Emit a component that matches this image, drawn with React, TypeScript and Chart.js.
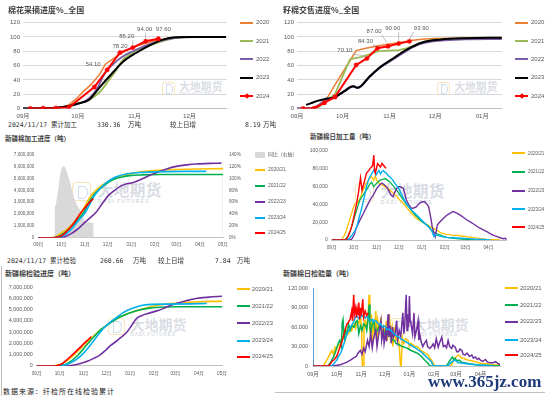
import React, { useEffect, useRef } from 'react';
import { Chart, registerables } from 'chart.js';

Chart.register(...registerables);

type Pt = [number, number];

// ---------- tick labels / legend labels ----------
const monthLabels = ['09月', '10月', '11月', '12月', '01月', '02月', '03月', '04月', '05月'];
const monthStarts = [0, 30, 61, 91, 122, 153, 181, 212, 242];
const yearLegend = ['2020', '2021', '2022', '2023', '2024'];
const seasonLegend = ['2020/21', '2021/22', '2022/23', '2023/24', '2024/25'];
const yoyLegend = '同比（右轴）';

// ---------- panel 1: 棉花采摘进度 (%) [day since 09-01, %] ----------
const pick2020: Pt[] = [[0,0],[10,0.3],[18,1],[22,2.5],[25,5],[29,13],[33,24],[37,33],[42,48],[45,62],[49,69],[53,76],[58,83],[63,88],[68,92],[74,96],[80,98.5],[88,99.6],[96,100],[111,100]];
const pick2021: Pt[] = [[0,0],[10,0.3],[18,1],[25,3],[30,7],[36,12],[42,23],[47,40],[51,54],[54,66],[58,75],[62,81],[69,88],[76,94],[83,98.5],[90,100],[111,100]];
const pick2022: Pt[] = [[0,0],[10,0.5],[18,1.2],[25,3],[32,8],[36,14],[40,26],[45,50],[51,66],[56,75],[60,80],[67,88],[74,94],[80,97.5],[86,99.5],[95,100],[111,100]];
const pick2023: Pt[] = [[0,0],[10,0.3],[18,1],[25,3.5],[30,7],[36,12],[42,30],[49,50],[55,66],[62,78],[69,88],[76,96],[83,99.5],[90,100],[111,100]];
const pick2024: Pt[] = [[4,0],[11,0.3],[18,0.6],[25,1.5],[39,30],[46,54.1],[53,78.2],[60,85.2],[67,94],[74,97.6]];

// ---------- panel 2: 籽棉交售进度 (%) ----------
const sale2020: Pt[] = [[0,0],[11,0],[14,2],[18,8],[25,33],[32,57],[39,81],[46,84.5],[52,87],[58,89],[68,92.4],[75,95],[82,97],[90,97.8],[105,98.3],[120,98.6],[135,99]];
const sale2021: Pt[] = [[0,0],[11,0],[14,2],[18,8],[25,20],[30,45],[35,69],[42,72],[48,76],[53,80],[60,81],[67,81.5],[72,84],[77,88],[83,93],[88,95.5],[95,96.5],[110,97.5],[135,98.8]];
const sale2022: Pt[] = [[0,0],[6,0],[11,1],[14,4],[18,10],[25,16],[31,24],[37,31],[40,29],[48,45],[55,58],[64,70],[72,81],[82,91],[95,95.5],[110,97],[135,97.5]];
const sale2023: Pt[] = [[6,5],[10,8],[14,11],[18,13],[25,16],[31,24],[37,31],[40,29],[48,45],[55,58],[64,71],[72,82],[82,92],[95,96.5],[110,98.3],[135,99]];
const sale2024: Pt[] = [[4,0],[11,0],[18,8],[25,16],[39,61],[46,70.1],[53,84.3],[60,87],[67,90.9],[74,93.9]];

// ---------- panel 3: 新疆棉加工进度 (吨) ----------
const procYoy: Pt[] = [[21,0],[21.5,52],[23,56],[26,80],[29,110],[31,118],[33,121],[35,119],[37,113],[40,100],[42,92],[46,71],[50,57],[54,48],[57,43],[61,27],[64,26],[68,26],[72,25],[72.5,0],[241,0],[241.5,105],[242,105]];
const proc2020: Pt[] = [[0,0],[17,0],[22,50000],[28,300000],[35,600000],[42,950000],[50,1550000],[57,2170000],[63,2900000],[68,3450000],[74,3900000],[81,4300000],[90,4680000],[98,4970000],[110,5250000],[125,5450000],[137,5580000],[155,5680000],[172,5740000],[207,5800000],[242,5830000]];
const proc2021: Pt[] = [[0,0],[20,0],[28,150000],[35,450000],[42,850000],[50,1400000],[60,2170000],[66,2950000],[72,3550000],[78,3980000],[86,4400000],[93,4720000],[100,4950000],[110,5130000],[120,5240000],[135,5300000],[160,5330000],[242,5330000]];
const proc2022: Pt[] = [[0,0],[25,0],[33,50000],[42,300000],[50,650000],[55,920000],[62,1350000],[70,1800000],[76,2170000],[84,2900000],[92,3570000],[100,4000000],[108,4350000],[116,4550000],[122,4620000],[128,4750000],[137,5000000],[147,5300000],[156,5520000],[168,5800000],[181,6020000],[195,6150000],[207,6220000],[225,6270000],[240,6290000]];
const proc2023: Pt[] = [[0,0],[22,0],[30,100000],[37,350000],[44,750000],[52,1400000],[62,2170000],[68,2900000],[73,3500000],[80,4080000],[88,4580000],[96,4950000],[105,5200000],[115,5380000],[133,5500000],[160,5580000],[190,5600000],[220,5600000]];
const proc2024: Pt[] = [[0,0],[19,0],[25,50000],[30,150000],[36,450000],[41,800000],[48,1350000],[54,1950000],[60,2450000],[66,2900000],[72,3300000]];

// ---------- panel 4: 新疆棉日加工量 (吨) ----------
const dproc2020: Pt[] = [[0,0],[13,0],[17,5000],[20,11000],[24,22000],[27,30000],[30,38000],[32,41000],[35,42000],[38,46000],[42,55000],[47,64000],[51,69000],[54,71000],[57,67000],[59,72000],[61,67000],[64,64000],[68,62000],[72,60000],[76,58000],[79,56000],[84,52000],[88,49000],[92,45000],[97,41000],[101,37000],[106,32000],[110,28000],[115,24000],[120,22000],[124,20000],[129,17000],[133,15000],[138,13000],[142,11000],[148,8000],[155,6400],[160,6000],[165,5000],[170,5500],[174,4500],[180,4000],[186,3500],[192,2600],[200,1800],[210,700],[220,300],[228,0]];
const dproc2021: Pt[] = [[0,0],[17,0],[20,2000],[23,5000],[27,15000],[31,26000],[35,37000],[38,45000],[42,50000],[47,56000],[51,62000],[54,65000],[57,60000],[60,63000],[65,67000],[69,68000],[72,69000],[76,67000],[79,65000],[84,60000],[88,56000],[92,51000],[97,45000],[101,40000],[106,35600],[110,31000],[113,28000],[117,25000],[120,22000],[125,19000],[129,17000],[133,13000],[138,9000],[142,7000],[147,5600],[151,4000],[156,3000],[162,2000],[169,1500],[176,1000],[183,700],[190,300],[195,0]];
const dproc2022: Pt[] = [[0,0],[24,0],[27,1000],[30,5000],[34,15000],[38,22000],[43,30000],[47,37000],[52,45000],[56,50000],[61,58000],[65,62000],[68,64000],[71,62000],[74,60000],[77,56000],[79,52000],[81,50000],[83,48700],[85,53000],[88,58000],[90,60000],[92,60000],[95,59000],[97,58000],[99,52000],[101,45000],[104,40000],[108,35600],[111,36000],[115,37500],[117,40000],[120,42000],[123,43000],[126,43000],[129,40000],[131,37500],[133,30000],[134.5,22500],[136,15000],[138,9000],[140,3700],[141.5,10000],[143,17000],[146,20000],[149,22500],[152,25000],[156,28000],[160,30000],[164,32000],[167,31000],[170,30000],[174,28000],[178,25500],[183,22500],[188,20000],[192,18000],[196,15700],[200,13500],[205,11500],[210,9400],[215,7000],[220,5000],[224,3700],[228,2500],[232,1500],[235,2000],[237,0]];
const dproc2023: Pt[] = [[0,0],[21,0],[24,2000],[28,6000],[31,10000],[34,15000],[37,25000],[41,37000],[44,48000],[47,60000],[50,68000],[53,73000],[56,77000],[58,80000],[60,73000],[62,76000],[64,78000],[66,74000],[68,77000],[70,78000],[72,76000],[74,75000],[77,72000],[80,70000],[83,67000],[86,63000],[90,59000],[93,54000],[97,47000],[101,41000],[106,35600],[110,32000],[115,28000],[120,24000],[124,20600],[128,17000],[133,13000],[136,9000],[138,4000],[140,6000],[144,5000],[148,4000],[155,3000],[165,2500],[175,2000],[185,1500],[195,1000],[205,500],[215,0]];
const dproc2024: Pt[] = [[0,0],[19,0],[21,2000],[24,8000],[27,15000],[30,26000],[33,38000],[36,52000],[39,70000],[41,56000],[43.7,64000],[47,75000],[50,78000],[52,80500],[54,82000],[55.5,84000],[57,95500],[58,78000],[59,75000],[61,82000],[62,86000],[64,84000],[66,82000],[68,86000],[70,84000],[72,82000],[73.5,80500]];

// ---------- panel 5: 新疆棉检验进度 (吨) ----------
const insp2020: Pt[] = [[0,0],[20,0],[24,30000],[29,100000],[35,280000],[41,550000],[48,950000],[55,1400000],[62,1900000],[71,2450000],[78,2900000],[84,3250000],[90,3550000],[97,3900000],[104,4200000],[110,4420000],[117,4620000],[125,4800000],[134,4980000],[145,5200000],[160,5420000],[175,5550000],[199,5670000],[242,5770000]];
const insp2021: Pt[] = [[0,0],[24,0],[30,30000],[36,100000],[42,300000],[48,600000],[55,1050000],[62,1600000],[70,2250000],[78,2850000],[84,3250000],[90,3550000],[97,3880000],[104,4180000],[110,4400000],[117,4600000],[125,4800000],[134,4980000],[145,5120000],[160,5220000],[186,5260000],[242,5260000]];
const insp2022: Pt[] = [[0,0],[30,0],[45,50000],[56,200000],[66,420000],[75,700000],[82,950000],[90,1400000],[97,1850000],[104,2200000],[111,2600000],[117,2950000],[124,3600000],[130,4200000],[136,4450000],[147,4700000],[157,4900000],[165,5100000],[175,5400000],[182,5550000],[195,5800000],[208,6000000],[225,6120000],[242,6200000]];
const insp2023: Pt[] = [[0,0],[26,0],[32,40000],[38,120000],[45,300000],[52,580000],[60,1050000],[67,1600000],[74,2200000],[80,2750000],[86,3250000],[92,3650000],[99,4050000],[106,4400000],[112,4700000],[120,5000000],[130,5250000],[140,5420000],[150,5480000],[173,5500000],[200,5520000],[222,5550000]];
const insp2024: Pt[] = [[0,0],[20,0],[26,30000],[32,150000],[39,530000],[45,900000],[52,1350000],[58,1750000],[64,2150000],[68,2400000],[71,2610000]];

// ---------- panel 6: 新疆棉日检验量 (吨) ----------
const dinsp2020: Pt[] = [[0,0],[13,0],[15,4000],[17.5,9000],[20,15000],[22,20000],[24,24000],[26,18000],[28,29000],[30,26000],[32.5,34000],[35,30000],[37,42000],[39,47000],[41,40000],[43,55000],[45,50000],[47,60000],[49,55000],[52,65000],[54,58000],[56,70000],[58,66000],[60,75000],[61.5,60000],[62.4,0],[63.5,0],[64.5,55000],[66,70000],[68,60000],[70,85000],[71,110000],[72,60000],[73,40000],[74,80000],[75,30000],[76,65000],[78,50000],[79.5,85000],[81,40000],[82,70000],[84,55000],[86,75000],[87,45000],[89,60000],[91,50000],[93,70000],[94,40000],[96.6,80000],[98,45000],[100,60000],[101,30000],[103,55000],[105,40000],[107,45000],[109,35000],[110.7,0],[111.7,0],[113,45000],[115,35000],[117,42000],[120,40000],[122,30000],[124,35000],[127,32000],[130,30000],[133,29000],[136,25000],[139,22000],[142,20000],[145.7,17000],[148,12000],[150,9000],[152,5000],[154,0],[175,0],[177.8,9000],[181,14000],[184,17000],[186,15000],[188,12000],[190.6,12000],[194,10000],[197,9000],[201,8000],[205.6,6600],[210,5000],[214,4000],[218,3500],[222.6,3000],[228,2000],[235.5,1500],[237,1000]];
const dinsp2021: Pt[] = [[0,0],[19,0],[22,5000],[24,10000],[26,14000],[28,20000],[30,28000],[32,35000],[34,40000],[36,30000],[37,67000],[38,72000],[39.7,40000],[41,55000],[43,50000],[45,65000],[47,55000],[49,62000],[52,60000],[54,68000],[56,70000],[58,50000],[60,62000],[62,55000],[64,65000],[66.7,62000],[68,55000],[70,75000],[71,95000],[72,60000],[73,50000],[75,65000],[77,70000],[79,50000],[81.6,55000],[84,62000],[86,60000],[88,45000],[90,50000],[92,55000],[95,48000],[98.7,44600],[101,40000],[103,39500],[105,35000],[107,34000],[110,32000],[113,30000],[115.8,29000],[118,28000],[120,27000],[124,24000],[128,22000],[133,19000],[137,15000],[141.5,9000],[145,5000],[148,0],[169,0],[171,4000],[173.5,9000],[176.5,14000],[178,10000],[180,12000],[182,8000],[185,9000],[188,6000],[192,5000],[198,3500],[205,2500],[212,1500],[220,1000],[230,500],[237,300]];
const dinsp2022: Pt[] = [[0,0],[24,0],[30,1000],[35,2000],[39,4000],[43,6000],[47.4,9000],[51,12000],[55,15000],[57,20000],[60,24000],[62,18000],[64,28000],[66,22000],[69,39500],[71,30000],[73,50000],[75,28000],[77,45000],[79.5,55000],[81,30000],[83,48000],[86,70000],[87,40000],[89,55000],[90,35000],[92,52000],[93,38000],[95,80000],[96,45000],[98,62000],[99,35000],[100.8,60000],[102,45000],[104,50000],[106,70000],[107,40000],[109,55000],[111,45000],[113.7,82000],[115,50000],[116,60000],[118,110000],[119,55000],[120,80000],[121,60000],[122,108000],[123,70000],[124,65000],[126,50000],[127.8,82000],[129,45000],[131,55000],[133,70000],[134,40000],[135,50000],[137,37000],[139,30000],[141,35000],[143.6,39500],[145,30000],[148,27000],[150,30000],[152,34000],[154,28000],[156,42000],[158.5,29000],[160,35000],[163,44600],[165,30000],[167,32000],[169,28000],[171,39500],[173,30000],[175.6,27000],[177,32000],[180,29000],[182,22000],[184,22000],[186,26000],[188.5,24000],[190,18000],[192.7,17000],[195,20000],[198,15000],[201,17000],[203,12000],[205.6,14000],[208,10000],[210,12000],[212,9000],[215,7000],[218,10000],[221,6000],[224.8,5000],[228,5000],[231,6600],[234,4000],[236,3000],[237,2000]];
const dinsp2023: Pt[] = [[0,0],[24,0],[26,3000],[28,6000],[30,9000],[32,14000],[34.6,19000],[37,26000],[39,34000],[41,42000],[43,50000],[45,55000],[47.4,60000],[50,65000],[52,70000],[54,76000],[56,77000],[58,73000],[60,75000],[62,78000],[64.5,76000],[66,74000],[68,77000],[71,72000],[73,70000],[75,72000],[77,68000],[79.5,70000],[82,66000],[84,64000],[86,65000],[88,60000],[90,62000],[92,60000],[94,56000],[96,57000],[98.7,55000],[101,51000],[103,50000],[105,47000],[108,45000],[111.5,42000],[114,40000],[118,37000],[121,35000],[124,32000],[127,30000],[131,27000],[134,24000],[137,22000],[140,18000],[143.6,14000],[147,10000],[150,6600],[152,0],[171,0],[173,3000],[175.6,6600],[178,8000],[180,9000],[182,7000],[184,5000],[188,4500],[192,4000],[197,3000],[203,2200],[210,1500],[216,1000],[222.6,500],[228,200]];
const dinsp2024: Pt[] = [[0,0],[19,0],[22,3000],[24,7000],[27,10000],[30,15000],[33,25000],[36,35000],[39,48000],[41,57000],[43,65000],[45,68000],[47,72000],[49,85000],[50,70000],[51.5,110000],[52.5,80000],[54,90000],[55,75000],[56,88000],[57,80000],[58,98000],[59,72000],[60,90000],[61,78000],[63,103000],[64,75000],[66,85000],[68,78000],[70,82000]];

// ---------- headline figures ----------
const procDate = '2024/11/17';
const procTotal = '330.36';
const procDelta = '8.19';
const inspTotal = '260.66';
const inspDelta = '7.84';

const COLORS_A = ['#ed7d31', '#9bbb59', '#7b5ea7', '#000000', '#ff0000'];
const COLORS_B = ['#ffc000', '#00b050', '#7030a0', '#00b0f0', '#ff0000'];
const YOY_COLOR = '#d9d9d9';
const GRAY = '#595959';
const NUMFONT = "'Liberation Sans', 'Noto Sans CJK SC', sans-serif";
const CJK = "'Noto Sans CJK SC', 'Noto Sans', sans-serif";
const MONO = "'DejaVu Sans Mono', 'Noto Sans CJK SC', monospace";

const toXY = (p: Pt[]) => p.map(([x, y]) => ({ x, y }));
const fmtThousands = (v: any) => Number(v).toLocaleString('en-US');

function lineSet(data: Pt[], color: string, width: number, order: number, extra: any = {}) {
  return {
    data: toXY(data),
    borderColor: color,
    backgroundColor: color,
    borderWidth: width,
    pointRadius: 0,
    fill: false,
    tension: 0,
    order,
    ...extra,
  };
}

function xScale(max: number, count: number, size: number, height: number, pad: number, border = '#bfbfbf') {
  const ticks = monthStarts.slice(0, count);
  return {
    type: 'linear',
    min: 0,
    max,
    afterBuildTicks: (a: any) => { a.ticks = ticks.map((v) => ({ value: v })); },
    afterFit: (a: any) => { a.height = height; },
    grid: { display: false, drawTicks: false },
    border: { display: true, color: border, width: 1 },
    ticks: {
      autoSkip: false, maxRotation: 0, minRotation: 0, padding: pad, color: GRAY,
      font: { size, family: NUMFONT },
      callback: (v: any) => { const i = ticks.indexOf(v); return i >= 0 ? monthLabels[i] : ''; },
    },
  };
}

function yScale(o: any) {
  return {
    type: 'linear',
    position: o.position || 'left',
    min: 0,
    max: o.max,
    afterFit: (a: any) => { a.width = o.width; },
    grid: o.grid ? { color: '#d9d9d9', drawTicks: false, lineWidth: 1 } : { display: false, drawTicks: false },
    border: o.border ? { display: true, color: o.border, width: 1 } : { display: false },
    ticks: { stepSize: o.step, padding: o.pad, color: GRAY, font: { size: o.size, family: NUMFONT }, callback: o.fmt },
  };
}

function baseOptions(padding: any, scales: any) {
  return {
    responsive: false,
    maintainAspectRatio: false,
    animation: false,
    devicePixelRatio: 1,
    events: [],
    layout: { padding },
    plugins: { legend: { display: false }, tooltip: { enabled: false }, title: { display: false } },
    scales,
  };
}

function valueLabels(datasetIndex: number, items: any[]) {
  return {
    id: 'valueLabels' + datasetIndex,
    afterDatasetsDraw(chart: any) {
      const meta = chart.getDatasetMeta(datasetIndex);
      const data = chart.data.datasets[datasetIndex].data;
      const ctx = chart.ctx;
      ctx.save();
      ctx.font = `6px ${NUMFONT}`;
      ctx.textAlign = 'center';
      ctx.textBaseline = 'middle';
      ctx.fillStyle = GRAY;
      ctx.strokeStyle = '#a6a6a6';
      ctx.lineWidth = 0.7;
      for (const it of items) {
        const el = meta.data[it.index];
        if (!el) continue;
        const text = Number(data[it.index].y).toFixed(2);
        const tx = el.x + it.dx;
        const ty = el.y + it.dy;
        if (it.leader) {
          const w = ctx.measureText(text).width;
          const sx = Math.min(Math.max(el.x, tx - w / 2), tx + w / 2);
          ctx.beginPath();
          ctx.moveTo(sx, ty + 3.5);
          ctx.lineTo(el.x, el.y - 2);
          ctx.stroke();
        }
        ctx.fillText(text, tx, ty);
      }
      ctx.restore();
    },
  };
}

function ChartCanvas({ box, build }: { box: any; build: () => any }) {
  const ref = useRef<HTMLCanvasElement | null>(null);
  useEffect(() => {
    if (!ref.current) return;
    const chart = new Chart(ref.current, build());
    return () => chart.destroy();
  }, []);
  return (
    <canvas
      ref={ref}
      width={box.width}
      height={box.height}
      style={{ position: 'absolute', left: box.left, top: box.top, width: box.width, height: box.height, display: 'block' }}
    />
  );
}

// ---------- chart builders ----------
const redMarker = { pointRadius: 2.5, pointStyle: 'star', pointBorderColor: '#ff0000', pointBorderWidth: 1.2, pointBackgroundColor: '#ff0000' };

function buildPick() {
  return {
    type: 'line',
    data: {
      datasets: [
        lineSet(pick2024, COLORS_A[4], 2, 0, redMarker),
        lineSet(pick2023, COLORS_A[3], 2, 1, { cubicInterpolationMode: 'monotone' }),
        lineSet(pick2022, COLORS_A[2], 1.8, 2, { cubicInterpolationMode: 'monotone' }),
        lineSet(pick2021, COLORS_A[1], 2, 3, { cubicInterpolationMode: 'monotone' }),
        lineSet(pick2020, COLORS_A[0], 1.5, 4),
      ],
    },
    options: baseOptions({ top: 8.7, right: 4, left: 0, bottom: 0 }, {
      x: xScale(111.4, 4, 6.2, 11.5, 4),
      y: yScale({ max: 120, step: 20, width: 23, pad: 3, size: 6, grid: true }),
    }),
    plugins: [valueLabels(0, [
      { index: 5, dx: -14, dy: -5 },
      { index: 6, dx: 0, dy: -6 },
      { index: 7, dx: -6, dy: -11, leader: true },
      { index: 8, dx: -1, dy: -11.5, leader: true },
      { index: 9, dx: 5, dy: -9 },
    ])],
  };
}

function buildSale() {
  return {
    type: 'line',
    data: {
      datasets: [
        lineSet(sale2024, COLORS_A[4], 2, 0, redMarker),
        lineSet(sale2023, COLORS_A[3], 2, 1, { cubicInterpolationMode: 'monotone' }),
        lineSet(sale2022, COLORS_A[2], 2.4, 2, { cubicInterpolationMode: 'monotone' }),
        lineSet(sale2021, COLORS_A[1], 1.8, 3),
        lineSet(sale2020, COLORS_A[0], 1.5, 4),
      ],
    },
    options: baseOptions({ top: 8.7, right: 4, left: 0, bottom: 0 }, {
      x: xScale(134.9, 5, 6.2, 11.5, 4),
      y: yScale({ max: 120, step: 20, width: 22, pad: 3, size: 6, grid: true }),
    }),
    plugins: [valueLabels(0, [
      { index: 5, dx: -22, dy: -8, leader: true },
      { index: 6, dx: -12, dy: -7, leader: true },
      { index: 7, dx: -14, dy: -15, leader: true },
      { index: 8, dx: -6, dy: -15, leader: true },
      { index: 9, dx: 12, dy: -13, leader: true },
    ])],
  };
}

function buildProc() {
  const smooth = { cubicInterpolationMode: 'monotone' };
  return {
    type: 'line',
    data: {
      datasets: [
        lineSet(proc2024, COLORS_B[4], 1.6, 0, smooth),
        lineSet(proc2023, COLORS_B[3], 1.6, 1, smooth),
        lineSet(proc2022, COLORS_B[2], 1.6, 2, smooth),
        lineSet(proc2021, COLORS_B[1], 1.6, 3, smooth),
        lineSet(proc2020, COLORS_B[0], 1.6, 4, smooth),
        { ...lineSet(procYoy, YOY_COLOR, 0, 10), fill: 'origin', backgroundColor: YOY_COLOR, yAxisID: 'y1' },
      ],
    },
    options: baseOptions({ top: 8, right: 0, left: 0, bottom: 0 }, {
      x: xScale(242, 9, 4.7, 12.3, 4),
      y: yScale({ max: 7000000, step: 1000000, width: 38.3, pad: 4, size: 4.6, fmt: fmtThousands }),
      y1: yScale({ position: 'right', max: 140, step: 20, width: 27, pad: 6, size: 4.6, fmt: (v: any) => v + '%' }),
    }),
  };
}

function buildDailyProc() {
  return {
    type: 'line',
    data: {
      datasets: [
        lineSet(dproc2024, COLORS_B[4], 1.4, 0),
        lineSet(dproc2023, COLORS_B[3], 1.4, 1),
        lineSet(dproc2022, COLORS_B[2], 1.4, 2),
        lineSet(dproc2021, COLORS_B[1], 1.3, 3),
        lineSet(dproc2020, COLORS_B[0], 1.3, 4),
      ],
    },
    options: baseOptions({ top: 7, right: 3.3, left: 0, bottom: 0 }, {
      x: xScale(236.8, 8, 4.7, 12, 5),
      y: yScale({ max: 100000, step: 10000, width: 36.7, pad: 4, size: 5, fmt: fmtThousands }),
    }),
  };
}

function buildInsp() {
  const smooth = { cubicInterpolationMode: 'monotone' };
  return {
    type: 'line',
    data: {
      datasets: [
        lineSet(insp2024, COLORS_B[4], 1.6, 0, smooth),
        lineSet(insp2023, COLORS_B[3], 1.6, 1, smooth),
        lineSet(insp2022, COLORS_B[2], 1.6, 2, smooth),
        lineSet(insp2021, COLORS_B[1], 1.6, 3, smooth),
        lineSet(insp2020, COLORS_B[0], 1.6, 4, smooth),
      ],
    },
    options: baseOptions({ top: 7, right: 8.7, left: 0, bottom: 0 }, {
      x: xScale(242, 9, 4.7, 12, 5),
      y: yScale({ max: 7000000, step: 1000000, width: 36.7, pad: 4, size: 5.4, fmt: fmtThousands }),
    }),
  };
}

function buildDailyInsp() {
  return {
    type: 'line',
    data: {
      datasets: [
        lineSet(dinsp2024, COLORS_B[4], 1.5, 0),
        lineSet(dinsp2023, COLORS_B[3], 1.5, 1),
        lineSet(dinsp2022, COLORS_B[2], 1.5, 2),
        lineSet(dinsp2021, COLORS_B[1], 1.5, 3),
        lineSet(dinsp2020, COLORS_B[0], 1.5, 4),
      ],
    },
    options: baseOptions({ top: 7, right: 3, left: 0, bottom: 0 }, {
      x: xScale(236.7, 8, 5.5, 12, 5),
      y: yScale({ max: 120000, step: 30000, width: 38, pad: 5, size: 5.5, fmt: fmtThousands, border: '#5b9bd5' }),
    }),
  };
}

// ---------- HTML helpers ----------
function Txt({ x, y, size, children, bold = false, color = '#333', family = CJK, spacing = 0 }: any) {
  const lh = Math.ceil(size * 1.5);
  return (
    <div style={{ position: 'absolute', left: x, top: y - lh / 2, height: lh, lineHeight: lh + 'px', fontSize: size, fontWeight: bold ? 700 : 400, color, fontFamily: family, whiteSpace: 'nowrap', letterSpacing: spacing }}>
      {children}
    </div>
  );
}

function Legend({ items, ys, lineX, lineW, textX, size, thick = 2 }: any) {
  return (
    <>
      {items.map((it: any, i: number) => (
        <React.Fragment key={i}>
          <div style={{ position: 'absolute', left: lineX, top: ys[i] - (it.box ? 3 : thick / 2), width: lineW, height: it.box ? 6 : thick, background: it.color }} />
          {it.marker ? (
            <div style={{ position: 'absolute', left: lineX + lineW / 2 - 2, top: ys[i] - 2, width: 4, height: 4, background: it.color, transform: 'rotate(45deg)' }} />
          ) : null}
          <Txt x={textX} y={ys[i]} size={size} color={GRAY} family={NUMFONT}>{it.label}</Txt>
        </React.Fragment>
      ))}
    </>
  );
}

function Watermark({ x, y, s }: any) {
  const icon = s * 1.25;
  return (
    <>
      <div style={{ position: 'absolute', left: x, top: y, width: icon - 3, height: icon - 3, border: '1.5px solid rgba(240,205,130,0.55)', borderRadius: s * 0.25 }} />
      <div style={{ position: 'absolute', left: x + icon * 0.3, top: y + icon * 0.18, width: icon * 0.4, height: icon * 0.55, border: '1.5px solid rgba(150,175,215,0.45)', borderRadius: '0 50% 50% 0' }} />
      <div style={{ position: 'absolute', left: x + s * 1.6, top: y - s * 0.15, fontSize: s, lineHeight: 1.2, fontFamily: CJK, color: 'rgba(170,178,192,0.45)', whiteSpace: 'nowrap', fontWeight: 700 }}>大地期货</div>
      <div style={{ position: 'absolute', left: x + s * 1.6, top: y + s * 1.05, fontSize: s * 0.34, lineHeight: 1, fontFamily: NUMFONT, color: 'rgba(170,178,192,0.5)', whiteSpace: 'nowrap', letterSpacing: s * 0.06, fontWeight: 700 }}>DADI FUTURES</div>
    </>
  );
}

export default function App() {
  const legA = yearLegend.map((label, i) => ({ label, color: COLORS_A[i], marker: i === 4 }));
  const legB = seasonLegend.map((label, i) => ({ label, color: COLORS_B[i] }));
  const legP3 = [{ label: yoyLegend, color: YOY_COLOR, box: true }, ...legB];

  return (
    <div style={{ position: 'absolute', left: 0, top: 0, width: 550, height: 396, background: '#ffffff', overflow: 'hidden' }}>
      <Watermark x={162} y={82} s={10.8} />
      <Watermark x={437} y={82} s={10.8} />
      <Watermark x={72} y={182} s={16} />
      <Watermark x={355} y={183} s={16} />
      <Watermark x={108} y={318} s={14} />
      <Watermark x={390} y={318} s={14} />

      <ChartCanvas box={{ left: 0, top: 14, width: 232, height: 106 }} build={buildPick} />
      <ChartCanvas box={{ left: 275, top: 14, width: 232, height: 106 }} build={buildSale} />
      <ChartCanvas box={{ left: 0, top: 146, width: 250, height: 104 }} build={buildProc} />
      <ChartCanvas box={{ left: 295, top: 144, width: 215, height: 108 }} build={buildDailyProc} />
      <ChartCanvas box={{ left: 0, top: 280, width: 232, height: 98 }} build={buildInsp} />
      <ChartCanvas box={{ left: 275, top: 280, width: 228, height: 98 }} build={buildDailyInsp} />

      <Txt x={8} y={10} size={8} bold color="#404040">棉花采摘进度%_全国</Txt>
      <Txt x={283} y={10} size={8} bold color="#404040">籽棉交售进度%_全国</Txt>
      <Txt x={5} y={138} size={6.5} bold color="#404040">新疆棉加工进度（吨）</Txt>
      <Txt x={310} y={136} size={6.5} bold color="#404040">新疆棉日加工量（吨）</Txt>
      <Txt x={5} y={273} size={7} bold color="#404040">新疆棉检验进度（吨）</Txt>
      <Txt x={283} y={273} size={7} bold color="#404040">新疆棉日检验量（吨）</Txt>

      <Legend items={legA} ys={[22.7, 41, 59.3, 77.7, 96]} lineX={240} lineW={13} textX={256} size={6} />
      <Legend items={legA} ys={[22.7, 41, 59.3, 77.7, 96]} lineX={515} lineW={13} textX={531} size={6} />
      <Legend items={legP3} ys={[154.7, 170, 186, 201.7, 217.7, 233.3]} lineX={255} lineW={10} textX={268} size={4.9} />
      <Legend items={legB} ys={[153.3, 171.7, 190.7, 209, 227.3]} lineX={512} lineW={13} textX={528} size={4.5} />
      <Legend items={legB} ys={[289.3, 306, 323.3, 340.7, 356.7]} lineX={237} lineW={13} textX={252} size={5.8} />
      <Legend items={legB} ys={[288.3, 305, 321.7, 340, 355]} lineX={505} lineW={13} textX={520} size={6} />

      <Txt x={8} y={125} size={6.5} family={MONO}>{procDate} 累计加工</Txt>
      <Txt x={97} y={125} size={6.5} family={MONO}>{procTotal}</Txt>
      <Txt x={128} y={125} size={6.5} family={MONO}>万吨</Txt>
      <Txt x={170} y={125} size={6.5} family={MONO}>较上日增</Txt>
      <Txt x={245} y={125} size={6.5} family={MONO}>{procDelta}</Txt>
      <Txt x={263} y={125} size={6.5} family={MONO}>万吨</Txt>

      <Txt x={7} y={260.5} size={6.5} family={MONO}>{procDate} 累计检验</Txt>
      <Txt x={100} y={260.5} size={6.5} family={MONO}>{inspTotal}</Txt>
      <Txt x={133} y={260.5} size={6.5} family={MONO}>万吨</Txt>
      <Txt x={158} y={260.5} size={6.5} family={MONO}>较上日增</Txt>
      <Txt x={215} y={260.5} size={6.5} family={MONO}>{inspDelta}</Txt>
      <Txt x={237} y={260.5} size={6.5} family={MONO}>万吨</Txt>

      <Txt x={3} y={391.5} size={7} spacing={1} color="#222">数据来源：纤检所在线检验累计</Txt>

      <div style={{ position: 'absolute', left: 1, top: 266, width: 1, height: 130, background: '#bfbfbf' }} />
      <div style={{ position: 'absolute', left: 275, top: 392, width: 270, height: 1, background: '#bfbfbf' }} />

      <div style={{ position: 'absolute', left: 428, top: 372, fontSize: 17, lineHeight: '20px', fontFamily: "'Liberation Serif', 'DejaVu Serif', serif", fontWeight: 700, color: '#1f3a7a', whiteSpace: 'nowrap' }}>www.365jz.com</div>
    </div>
  );
}
